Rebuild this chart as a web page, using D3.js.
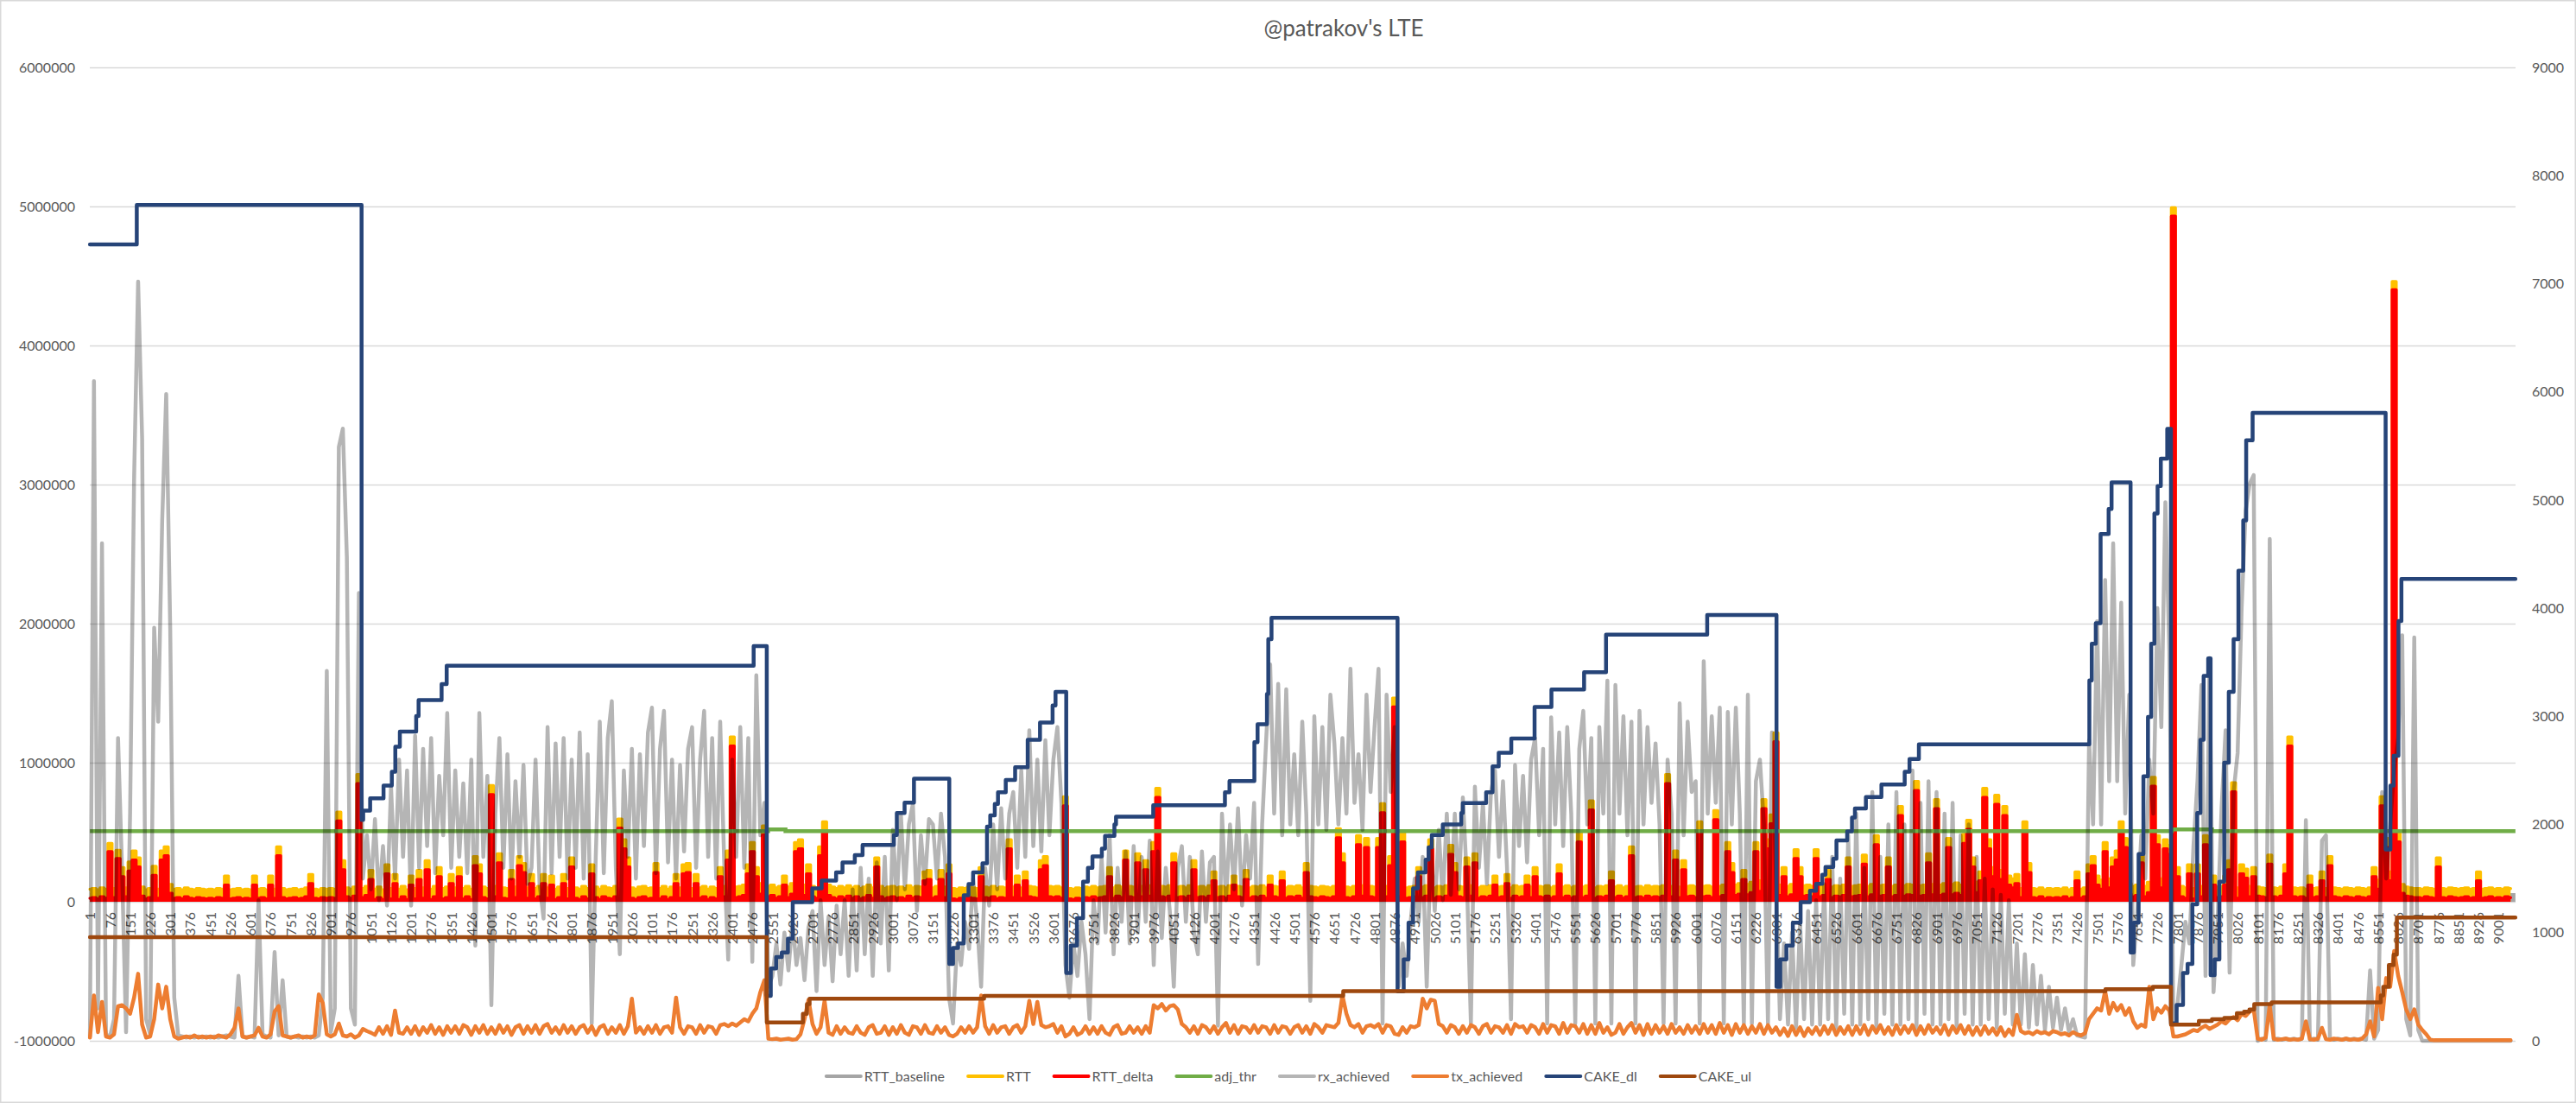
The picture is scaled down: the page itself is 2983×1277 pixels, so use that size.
<!DOCTYPE html>
<html><head><meta charset="utf-8">
<script src="https://cdn.jsdelivr.net/npm/d3@7"></script>
<style>
html,body{margin:0;padding:0;background:#fff;}
svg{display:block;}
</style></head><body>
<svg id="chart" width="2983" height="1277"></svg>
<script>
// ---------------- DATA ----------------
const TITLE = "@patrakov's LTE";
const N_CATEGORIES = 9064;        // categories 1..9064 on the x axis
const SAMPLE_STEP = 15;           // sampled series: value i belongs to category 1 + 15*i

const categoryLabels = [1,76,151,226,301,376,451,526,601,676,751,826,901,976,1051,1126,1201,1276,1351,1426,1501,1576,1651,1726,1801,1876,1951,2026,2101,2176,2251,2326,2401,2476,2551,2626,2701,2776,2851,2926,3001,3076,3151,3226,3301,3376,3451,3526,3601,3676,3751,3826,3901,3976,4051,4126,4201,4276,4351,4426,4501,4576,4651,4726,4801,4876,4951,5026,5101,5176,5251,5326,5401,5476,5551,5626,5701,5776,5851,5926,6001,6076,6151,6226,6301,6376,6451,6526,6601,6676,6751,6826,6901,6976,7051,7126,7201,7276,7351,7426,7501,7576,7651,7726,7801,7876,7951,8026,8101,8176,8251,8326,8401,8476,8551,8626,8701,8776,8851,8926,9001];
const leftTicks = [-1000000,0,1000000,2000000,3000000,4000000,5000000,6000000];
const rightTicks = [0,1000,2000,3000,4000,5000,6000,7000,8000,9000];

const seriesNames = ["RTT_baseline","RTT","RTT_delta","adj_thr","rx_achieved","tx_achieved","CAKE_dl","CAKE_ul"];

// RTT_baseline (left axis), step series
const rttBaselineCats = [1, 1016, 2530, 6303, 7777, 8700, 9064];
const rttBaselineVals = [62000, 70000, 68000, 70000, 62000, 62000, 62000];

// RTT (left axis), one value per 15 categories
const rtt = [
90e3,95e3,85e3,100e3,90e3,420e3,95e3,370e3,245e3,100e3,
285e3,365e3,315e3,105e3,85e3,95e3,255e3,90e3,365e3,395e3,
125e3,90e3,95e3,85e3,100e3,90e3,85e3,95e3,90e3,85e3,
90e3,85e3,95e3,90e3,185e3,85e3,90e3,95e3,85e3,90e3,
85e3,185e3,90e3,95e3,85e3,185e3,90e3,395e3,95e3,85e3,
90e3,95e3,85e3,90e3,100e3,195e3,90e3,85e3,95e3,90e3,
95e3,90e3,645e3,295e3,100e3,90e3,105e3,915e3,95e3,110e3,
225e3,90e3,105e3,85e3,265e3,95e3,195e3,90e3,110e3,85e3,
185e3,95e3,225e3,100e3,295e3,90e3,110e3,245e3,95e3,105e3,
195e3,100e3,245e3,95e3,110e3,90e3,325e3,265e3,105e3,95e3,
835e3,110e3,345e3,100e3,95e3,225e3,105e3,325e3,275e3,100e3,
195e3,95e3,110e3,195e3,100e3,185e3,90e3,105e3,195e3,95e3,
315e3,100e3,90e3,110e3,95e3,265e3,105e3,90e3,110e3,100e3,
95e3,110e3,595e3,445e3,315e3,100e3,90e3,105e3,110e3,95e3,
100e3,275e3,95e3,110e3,90e3,105e3,195e3,100e3,265e3,275e3,
95e3,195e3,100e3,110e3,90e3,105e3,95e3,245e3,110e3,365e3,
1185e3,105e3,110e3,120e3,265e3,425e3,245e3,130e3,545e3,110e3,
120e3,100e3,110e3,185e3,105e3,130e3,425e3,445e3,120e3,265e3,
110e3,100e3,395e3,575e3,120e3,105e3,95e3,110e3,100e3,115e3,
100e3,110e3,95e3,105e3,120e3,100e3,315e3,110e3,95e3,105e3,
110e3,100e3,105e3,95e3,115e3,100e3,110e3,105e3,215e3,225e3,
100e3,110e3,225e3,105e3,265e3,95e3,90e3,100e3,95e3,105e3,
100e3,95e3,245e3,105e3,100e3,110e3,95e3,105e3,100e3,445e3,
105e3,185e3,100e3,215e3,110e3,105e3,100e3,295e3,325e3,110e3,
105e3,110e3,100e3,755e3,95e3,90e3,100e3,95e3,105e3,100e3,
110e3,100e3,105e3,110e3,245e3,100e3,115e3,105e3,365e3,110e3,
105e3,345e3,110e3,295e3,115e3,425e3,815e3,110e3,105e3,115e3,
345e3,105e3,110e3,100e3,115e3,295e3,105e3,110e3,100e3,115e3,
215e3,105e3,110e3,100e3,115e3,185e3,110e3,105e3,225e3,100e3,
110e3,105e3,115e3,100e3,185e3,110e3,105e3,215e3,100e3,110e3,
105e3,115e3,100e3,275e3,110e3,105e3,100e3,110e3,105e3,100e3,
110e3,525e3,345e3,105e3,100e3,110e3,475e3,115e3,455e3,110e3,
105e3,455e3,705e3,110e3,325e3,1465e3,110e3,495e3,100e3,105e3,
110e3,245e3,105e3,115e3,445e3,100e3,110e3,105e3,115e3,405e3,
275e3,110e3,105e3,315e3,115e3,345e3,100e3,110e3,105e3,115e3,
185e3,105e3,110e3,195e3,100e3,115e3,105e3,110e3,185e3,105e3,
245e3,110e3,105e3,115e3,100e3,110e3,265e3,105e3,115e3,100e3,
110e3,495e3,105e3,115e3,725e3,100e3,110e3,105e3,115e3,215e3,
105e3,115e3,100e3,110e3,395e3,105e3,110e3,100e3,115e3,105e3,
110e3,105e3,115e3,915e3,110e3,365e3,105e3,295e3,110e3,115e3,
105e3,575e3,110e3,115e3,105e3,655e3,110e3,120e3,425e3,275e3,
120e3,130e3,225e3,125e3,140e3,425e3,150e3,735e3,445e3,625e3,
1215e3,120e3,245e3,110e3,125e3,375e3,245e3,115e3,120e3,110e3,
375e3,110e3,120e3,225e3,105e3,115e3,110e3,120e3,315e3,110e3,
115e3,120e3,335e3,110e3,125e3,475e3,115e3,120e3,315e3,110e3,
120e3,685e3,115e3,125e3,120e3,865e3,115e3,120e3,345e3,125e3,
735e3,120e3,130e3,455e3,125e3,135e3,120e3,485e3,585e3,315e3,
140e3,215e3,815e3,445e3,245e3,765e3,225e3,685e3,185e3,165e3,
195e3,95e3,575e3,275e3,95e3,90e3,100e3,85e3,95e3,90e3,
95e3,90e3,100e3,85e3,95e3,215e3,90e3,100e3,265e3,325e3,
185e3,155e3,425e3,165e3,315e3,365e3,575e3,455e3,130e3,110e3,
120e3,345e3,110e3,140e3,895e3,475e3,165e3,445e3,405e3,4990e3,
245e3,110e3,100e3,265e3,95e3,265e3,110e3,475e3,100e3,185e3,
105e3,110e3,185e3,295e3,855e3,100e3,265e3,235e3,110e3,245e3,
105e3,100e3,95e3,335e3,100e3,95e3,105e3,265e3,1185e3,100e3,
95e3,100e3,90e3,185e3,95e3,100e3,215e3,95e3,325e3,100e3,
95e3,90e3,100e3,95e3,90e3,100e3,95e3,90e3,100e3,245e3,
155e3,755e3,455e3,215e3,4460e3,495e3,125e3,105e3,100e3,95e3,
95e3,90e3,100e3,95e3,90e3,315e3,95e3,90e3,100e3,95e3,
90e3,95e3,100e3,90e3,95e3,215e3,90e3,95e3,100e3,90e3,
95e3,90e3,100e3,95e3];

// RTT_delta (left axis), one value per 15 categories
const rttDelta = [
25e3,30e3,20e3,35e3,25e3,360e3,30e3,310e3,180e3,35e3,
220e3,300e3,250e3,40e3,20e3,30e3,190e3,25e3,300e3,330e3,
60e3,25e3,30e3,20e3,35e3,25e3,20e3,30e3,25e3,20e3,
25e3,20e3,30e3,25e3,120e3,20e3,25e3,30e3,20e3,25e3,
20e3,120e3,25e3,30e3,20e3,120e3,25e3,330e3,30e3,20e3,
25e3,30e3,20e3,25e3,35e3,130e3,25e3,20e3,30e3,25e3,
30e3,25e3,580e3,230e3,35e3,25e3,40e3,850e3,30e3,45e3,
160e3,15e3,30e3,15e3,200e3,20e3,130e3,15e3,35e3,15e3,
120e3,20e3,160e3,25e3,230e3,15e3,35e3,180e3,20e3,30e3,
130e3,25e3,180e3,20e3,35e3,15e3,260e3,200e3,30e3,20e3,
770e3,35e3,280e3,25e3,20e3,160e3,30e3,260e3,210e3,25e3,
130e3,20e3,35e3,130e3,25e3,120e3,15e3,30e3,130e3,20e3,
250e3,25e3,15e3,35e3,20e3,200e3,30e3,15e3,35e3,25e3,
20e3,35e3,530e3,380e3,250e3,25e3,15e3,30e3,35e3,20e3,
25e3,210e3,20e3,35e3,15e3,30e3,130e3,25e3,200e3,210e3,
20e3,130e3,25e3,35e3,15e3,30e3,20e3,180e3,35e3,300e3,
1120e3,30e3,35e3,45e3,200e3,360e3,180e3,55e3,480e3,35e3,
45e3,25e3,35e3,120e3,30e3,55e3,360e3,380e3,45e3,200e3,
35e3,25e3,330e3,510e3,45e3,30e3,20e3,35e3,25e3,40e3,
25e3,35e3,20e3,30e3,45e3,25e3,250e3,35e3,20e3,30e3,
35e3,25e3,30e3,20e3,40e3,25e3,35e3,30e3,150e3,160e3,
25e3,35e3,160e3,30e3,200e3,20e3,15e3,25e3,20e3,30e3,
25e3,20e3,180e3,30e3,25e3,35e3,20e3,30e3,25e3,380e3,
30e3,120e3,25e3,150e3,35e3,30e3,25e3,230e3,260e3,35e3,
30e3,35e3,25e3,690e3,20e3,15e3,25e3,20e3,30e3,25e3,
35e3,25e3,30e3,35e3,180e3,25e3,40e3,30e3,300e3,35e3,
30e3,280e3,35e3,230e3,40e3,360e3,750e3,35e3,30e3,40e3,
280e3,30e3,35e3,25e3,40e3,230e3,30e3,35e3,25e3,40e3,
150e3,30e3,35e3,25e3,40e3,120e3,35e3,30e3,160e3,25e3,
35e3,30e3,40e3,25e3,120e3,35e3,30e3,150e3,25e3,35e3,
30e3,40e3,25e3,210e3,35e3,30e3,25e3,35e3,30e3,25e3,
35e3,460e3,280e3,30e3,25e3,35e3,410e3,40e3,390e3,35e3,
30e3,390e3,640e3,35e3,260e3,1400e3,35e3,430e3,25e3,30e3,
35e3,180e3,30e3,40e3,380e3,25e3,35e3,30e3,40e3,340e3,
210e3,35e3,30e3,250e3,40e3,280e3,25e3,35e3,30e3,40e3,
120e3,30e3,35e3,130e3,25e3,40e3,30e3,35e3,120e3,30e3,
180e3,35e3,30e3,40e3,25e3,35e3,200e3,30e3,40e3,25e3,
35e3,430e3,30e3,40e3,660e3,25e3,35e3,30e3,40e3,150e3,
30e3,40e3,25e3,35e3,330e3,30e3,35e3,25e3,40e3,30e3,
35e3,30e3,40e3,850e3,35e3,300e3,30e3,230e3,35e3,40e3,
30e3,510e3,35e3,40e3,30e3,590e3,35e3,45e3,360e3,210e3,
45e3,55e3,160e3,50e3,65e3,360e3,75e3,670e3,380e3,560e3,
1150e3,45e3,180e3,35e3,50e3,310e3,180e3,40e3,45e3,35e3,
310e3,35e3,45e3,160e3,30e3,40e3,35e3,45e3,250e3,35e3,
40e3,45e3,270e3,35e3,50e3,410e3,40e3,45e3,250e3,35e3,
45e3,620e3,40e3,50e3,45e3,800e3,40e3,45e3,280e3,50e3,
670e3,45e3,55e3,390e3,50e3,60e3,45e3,420e3,520e3,250e3,
65e3,150e3,750e3,380e3,180e3,700e3,160e3,620e3,120e3,100e3,
130e3,30e3,510e3,210e3,30e3,25e3,35e3,20e3,30e3,25e3,
30e3,25e3,35e3,20e3,30e3,150e3,25e3,35e3,200e3,260e3,
120e3,90e3,360e3,100e3,250e3,300e3,510e3,390e3,55e3,35e3,
45e3,280e3,35e3,65e3,830e3,410e3,100e3,380e3,340e3,4930e3,
180e3,35e3,25e3,200e3,20e3,200e3,35e3,410e3,25e3,120e3,
30e3,35e3,120e3,230e3,790e3,25e3,200e3,170e3,35e3,180e3,
40e3,35e3,30e3,270e3,35e3,30e3,40e3,200e3,1120e3,35e3,
30e3,35e3,25e3,120e3,30e3,35e3,150e3,30e3,260e3,35e3,
30e3,25e3,35e3,30e3,25e3,35e3,30e3,25e3,35e3,180e3,
90e3,690e3,390e3,150e3,4400e3,430e3,60e3,40e3,35e3,30e3,
30e3,25e3,35e3,30e3,25e3,250e3,30e3,25e3,35e3,30e3,
25e3,30e3,35e3,25e3,30e3,150e3,25e3,30e3,35e3,25e3,
30e3,25e3,35e3,30e3];

// adj_thr (left axis), step series
const adjThrCats = [1, 2535, 2600, 7780, 7930, 9064];
const adjThrVals = [507000, 520000, 507000, 520000, 507000, 507000];

// rx_achieved (right axis), one value per 15 categories
const rxAchieved = [
40,6100,300,4600,60,40,200,2800,1580,80,
2100,5200,7020,5570,200,60,3820,2950,4810,5980,
3800,400,50,40,30,40,30,40,30,40,
30,40,30,40,50,40,30,600,40,30,
40,30,1300,60,40,30,820,50,560,40,
30,40,30,40,30,40,30,50,400,3420,
80,300,5490,5660,4470,300,150,4140,1500,1900,
1400,2050,1300,1800,1250,2350,1500,2600,1700,2500,
1250,2820,1600,2700,1800,2800,1550,2450,1900,3030,
1600,2500,1700,2380,1550,2600,880,3030,1700,2450,
330,2100,2800,1600,2650,1500,2400,1700,2550,1450,
1600,2600,1450,1130,2900,1550,2750,1700,2800,1500,
2600,1600,2850,1500,2650,160,1700,2950,1550,2800,
3140,1600,800,2500,1700,2700,1500,2650,1800,2850,
3080,1550,2700,3050,1650,2600,1500,2550,1750,2700,
2900,1600,2600,3050,1700,2800,1500,2950,1650,750,
2600,1700,2900,1600,2800,730,3380,1900,2200,500,
600,900,520,1000,650,1100,700,950,560,1050,
1200,460,1300,700,1150,550,1250,800,1300,600,
1400,650,1600,800,1500,600,1650,900,1700,650,
1950,1300,2100,1400,2000,2190,1200,1900,1450,2050,
2000,1500,2100,1700,400,160,900,700,1100,850,
1500,1100,500,1600,1250,2000,1400,2150,1500,2100,
2300,1600,2500,1700,2870,1800,2600,1750,2780,1900,
2600,2900,2200,700,400,900,600,1100,800,200,
1300,900,1700,1000,1900,800,1600,1100,1750,900,
1800,1000,1700,1100,1850,700,1750,950,1600,1200,
500,1600,1800,1100,1700,1000,800,1750,1100,1650,
1700,140,2100,1300,2000,1400,2150,1250,1900,1500,
2200,710,2000,2780,3480,2100,3300,1900,3250,2000,
2650,1900,2950,2100,370,3000,2000,2900,1950,3200,
2750,2000,2800,2100,3440,2200,2650,1950,3200,2300,
2900,3440,160,3200,2300,2900,500,900,600,1100,
1500,1100,1700,500,1800,1200,1950,1300,2100,1350,
2100,1400,2250,1500,160,2350,1600,2200,1450,2300,
2500,1700,2400,1600,200,2550,1800,2450,1650,2600,
2800,1900,2700,160,2990,2000,2850,1800,2900,2100,
160,2700,3050,2000,2800,160,2900,2100,3330,160,
3290,2100,3000,1900,2950,160,3050,2000,2900,2200,
2750,2000,160,2600,2100,160,3120,1900,2950,2300,
2400,160,3510,2100,3000,2200,3080,160,3040,2000,
3080,2100,160,3200,160,2400,2600,2000,160,2850,
1500,200,900,150,1000,120,1100,200,1200,150,
1300,150,1450,200,1700,120,1500,250,1900,150,
2100,150,1600,200,2300,120,1700,250,2000,150,
2300,150,2000,200,2500,120,2200,250,2400,150,
2300,150,2100,200,2200,120,1900,250,2000,150,
1700,150,1500,200,1400,120,1350,250,1300,150,
900,150,800,120,700,150,600,100,500,120,
400,100,300,80,200,50,40,30,2780,2000,
3880,2000,4260,2400,4600,2400,4050,2100,3200,700,
1180,1900,1500,2600,2100,4000,2900,4980,3600,150,
330,700,1100,900,1800,2400,3290,600,3540,450,
1100,2150,2870,630,2300,2660,4000,4900,5150,5230,
0,20,10,4640,10,20,10,20,10,20,
10,20,2040,10,20,10,1850,1900,20,10,
20,10,20,10,20,10,20,10,650,20,
100,2300,1500,2000,2500,2800,3750,200,50,3730,
100,0,0,0,0,0,0,0,0,0,
0,0,0,0,0,0,0,0,0,0,
0,0,0,0];

// tx_achieved (right axis), one value per 15 categories
const txAchieved = [
30,420,80,360,40,30,60,320,330,300,
250,400,620,150,30,40,200,520,300,500,
200,40,20,30,40,30,50,30,40,30,
40,30,50,40,30,60,120,300,40,30,
40,50,120,40,30,60,270,320,50,40,
30,40,50,30,40,30,50,430,350,60,
40,60,160,50,40,60,30,50,110,90,
75,55,125,65,135,55,280,75,65,125,
65,135,55,125,75,145,65,125,55,135,
75,135,65,145,125,55,135,75,145,65,
125,65,145,75,135,55,125,145,65,135,
75,145,65,135,155,75,125,65,145,75,
135,65,125,145,75,135,55,125,145,65,
125,75,145,65,135,390,75,125,65,135,
75,145,65,125,135,75,400,125,65,135,
125,65,145,75,135,125,65,145,155,135,
160,140,170,200,180,250,300,450,560,20,
15,20,10,15,20,10,15,60,200,380,
155,65,125,370,75,55,135,65,125,75,
65,135,75,55,125,145,65,75,135,55,
125,65,145,75,55,135,125,65,145,75,
65,135,75,125,55,40,65,125,75,135,
75,125,420,135,65,145,75,125,135,65,
125,145,75,135,370,155,360,145,125,135,
155,75,135,40,65,125,55,75,135,65,
125,65,135,75,55,125,145,65,75,135,
75,125,65,135,75,330,300,340,280,320,
330,290,155,125,75,135,65,145,125,75,
135,65,125,165,75,145,65,135,125,75,
145,75,135,125,65,145,75,135,125,65,
125,145,75,135,65,155,125,75,145,135,
125,165,420,250,145,125,155,75,135,145,
125,155,75,145,135,65,55,125,75,135,
125,145,390,300,380,370,155,135,75,145,
125,65,135,75,145,125,65,135,155,75,
135,125,75,145,65,155,125,135,75,145,
125,65,155,75,145,135,65,165,75,145,
135,75,155,65,145,65,165,75,125,55,
75,155,65,125,165,75,145,55,155,65,
145,75,135,65,155,75,125,65,145,75,
135,65,155,75,145,65,165,75,145,55,
155,75,145,65,135,75,155,65,145,75,
125,55,115,45,135,55,125,45,115,65,
125,55,135,65,145,55,125,65,135,55,
135,65,145,55,135,75,145,65,125,55,
145,65,135,75,145,55,135,65,145,75,
125,65,145,55,135,75,145,65,135,55,
125,55,135,65,115,55,125,45,105,55,
240,90,70,80,60,90,70,80,60,90,
80,60,70,50,80,60,50,70,200,250,
300,280,460,250,350,280,330,240,300,180,
120,150,130,500,200,300,260,320,280,40,
40,50,60,80,100,90,120,140,110,130,
150,180,160,200,220,190,250,230,270,290,
20,10,30,330,20,10,15,20,10,15,
10,20,180,15,10,20,120,15,10,20,
15,10,20,10,15,10,20,60,180,40,
490,200,580,500,830,600,450,290,200,290,
150,100,60,10,5,5,5,5,5,5,
5,5,5,5,5,5,5,5,5,5,
5,5,5,5];

// CAKE_dl (right axis): value holds from the listed category until the next one
const cakeDlCats = [1,176,1016,1022,1048,1098,1129,1142,1159,1220,1229,1315,1334,2481,2530,2545,2565,2586,2609,2627,2700,2735,2789,2813,2859,2888,3005,3016,3045,3080,3212,3226,3245,3266,3284,3301,3336,3353,3365,3382,3394,3423,3458,3505,3551,3598,3609,3649,3666,3689,3712,3730,3747,3782,3794,3829,3835,3974,4242,4259,4352,4364,4399,4404,4416,4887,4910,4928,4945,4963,4992,5003,5015,5056,5125,5131,5218,5242,5265,5312,5399,5462,5584,5666,6044,6303,6317,6340,6364,6393,6428,6451,6474,6486,6515,6527,6567,6585,6596,6637,6695,6782,6800,6835,7472,7481,7496,7514,7544,7555,7626,7638,7656,7674,7691,7703,7715,7727,7739,7763,7777,7798,7822,7839,7857,7875,7887,7899,7916,7925,7940,7958,7976,7993,8011,8029,8047,8058,8082,8579,8597,8609,8627,8638,9064];
const cakeDlVals = [7363,7728,2043,2128,2242,2360,2487,2720,2859,3003,3151,3299,3468,3650,415,669,775,817,944,1282,1409,1481,1557,1650,1717,1810,1903,2106,2203,2423,711,859,900,1345,1450,1557,1641,1980,2085,2191,2297,2411,2529,2783,2943,3100,3227,627,880,1134,1472,1599,1705,1777,1895,2001,2073,2178,2297,2402,2762,2927,3206,3713,3912,457,753,1092,1409,1557,1675,1789,1903,2001,2106,2199,2297,2538,2664,2795,3087,3248,3408,3755,3937,500,753,880,1092,1282,1388,1451,1536,1608,1684,1853,1937,2064,2149,2254,2369,2487,2605,2741,3332,3671,3861,4685,4918,5163,817,1092,1726,2445,2994,3671,4876,5129,5383,5658,161,331,627,711,1261,2106,2783,3375,3535,606,753,1472,2571,3227,3713,4347,4812,5552,5806,1768,2360,2635,3882,4271,4271];

// CAKE_ul (right axis): value holds from the listed category until the next one
const cakeUlCats = [1,2530,2665,2680,2690,3342,4684,7532,7709,7777,7881,7930,7976,8023,8050,8070,8088,8153,8561,8570,8591,8609,8621,9064];
const cakeUlVals = [958,170,250,340,390,415,460,478,500,149,183,200,212,255,270,289,339,356,420,500,700,796,1140,1140];

// ---------------- CHART ----------------
const W = 2983, H = 1277;
const plot = {left: 104, right: 2913, top: 78, bottom: 1205};
const FONT = "Lato, 'Open Sans', 'Liberation Sans', sans-serif";
const TEXT_COLOR = "#595959";
const colors = {
  RTT_baseline: "#A5A5A5", RTT: "#FFC000", RTT_delta: "#FF0000", adj_thr: "#70AD47",
  rx_achieved: "#000000", tx_achieved: "#ED7D31", CAKE_dl: "#264478", CAKE_ul: "#9E480E"
};
const RX_OPACITY = 0.29;
const LW = 4.5;

const svg = d3.select("#chart").attr("font-family", FONT);
svg.append("rect").attr("x", 0.75).attr("y", 0.75).attr("width", W - 1.5).attr("height", H - 1.5)
  .attr("fill", "#fff").attr("stroke", "#D9D9D9").attr("stroke-width", 1.5);

const x = d3.scaleLinear().domain([0.5, N_CATEGORIES + 0.5]).range([plot.left, plot.right]);
const yL = d3.scaleLinear().domain([-1000000, 6000000]).range([plot.bottom, plot.top]);
const yR = d3.scaleLinear().domain([0, 9000]).range([plot.bottom, plot.top]);
const sampleCat = i => 1 + SAMPLE_STEP * i;

// gridlines
svg.append("g").attr("transform", `translate(${plot.left},0)`)
  .call(d3.axisLeft(yL).tickValues(leftTicks).tickSize(-(plot.right - plot.left)).tickFormat(""))
  .call(g => g.select(".domain").remove())
  .call(g => g.selectAll("line").attr("stroke", "#D9D9D9").attr("stroke-width", 1.5));

// left axis labels
svg.append("g").attr("transform", `translate(${plot.left},0)`)
  .call(d3.axisLeft(yL).tickValues(leftTicks).tickSize(0).tickPadding(17).tickFormat(d => String(d)))
  .call(g => g.select(".domain").remove())
  .call(g => g.selectAll("text").attr("fill", TEXT_COLOR).attr("font-size", 16).attr("font-family", FONT));

// right axis labels
svg.append("g").attr("transform", `translate(${plot.right},0)`)
  .call(d3.axisRight(yR).tickValues(rightTicks).tickSize(0).tickPadding(19).tickFormat(d => String(d)))
  .call(g => g.select(".domain").remove())
  .call(g => g.selectAll("text").attr("fill", TEXT_COLOR).attr("font-size", 16).attr("font-family", FONT));

// category axis labels (crossing at 0 of the left axis), rotated
svg.append("g").attr("transform", `translate(0,${yL(0)})`)
  .call(d3.axisBottom(x).tickValues(categoryLabels).tickSize(0).tickFormat(d => String(d)))
  .call(g => g.select(".domain").remove())
  .call(g => g.selectAll("text")
    .attr("transform", "rotate(-90)").attr("x", -12).attr("y", 0).attr("dy", "0.35em")
    .attr("text-anchor", "end").attr("fill", TEXT_COLOR).attr("font-size", 16).attr("font-family", FONT));

const series = svg.append("g");

// RTT_baseline area (step)
const basePts = rttBaselineCats.map((c, i) => [c, rttBaselineVals[i]]);
series.append("path")
  .attr("d", d3.area().curve(d3.curveStepAfter).x(d => x(d[0])).y0(yL(0)).y1(d => yL(d[1]))(basePts))
  .attr("fill", colors.RTT_baseline);

// RTT and RTT_delta areas (each sample drawn as a narrow column)
function sampledArea(vals, color) {
  series.append("path")
    .attr("d", d3.area().curve(d3.curveStep).x((d, i) => x(sampleCat(i))).y0(yL(0)).y1(d => yL(d))(vals))
    .attr("fill", color);
  series.append("path")
    .attr("d", d3.line().curve(d3.curveStep).x((d, i) => x(sampleCat(i))).y(d => yL(d))(vals))
    .attr("fill", "none").attr("stroke", color).attr("stroke-width", 3.5)
    .attr("stroke-linejoin", "round").attr("stroke-linecap", "round");
}
sampledArea(rtt, colors.RTT);
sampledArea(rttDelta, colors.RTT_delta);

// adj_thr
series.append("path")
  .attr("d", d3.line().curve(d3.curveStepAfter).x(d => x(d[0])).y(d => yL(d[1]))(adjThrCats.map((c, i) => [c, adjThrVals[i]])))
  .attr("fill", "none").attr("stroke", colors.adj_thr).attr("stroke-width", LW);

// rx_achieved (semi-transparent)
series.append("path")
  .attr("d", d3.line().x((d, i) => x(sampleCat(i))).y(d => yR(d))(rxAchieved))
  .attr("fill", "none").attr("stroke", colors.rx_achieved).attr("stroke-opacity", RX_OPACITY)
  .attr("stroke-width", LW).attr("stroke-linejoin", "round").attr("stroke-linecap", "round");

// tx_achieved
series.append("path")
  .attr("d", d3.line().x((d, i) => x(sampleCat(i))).y(d => yR(d))(txAchieved))
  .attr("fill", "none").attr("stroke", colors.tx_achieved)
  .attr("stroke-width", LW).attr("stroke-linejoin", "round").attr("stroke-linecap", "round");

// CAKE_dl, CAKE_ul
function stepLine(cats, vals, color) {
  series.append("path")
    .attr("d", d3.line().curve(d3.curveStepAfter).x(d => x(d[0])).y(d => yR(d[1]))(cats.map((c, i) => [c, vals[i]])))
    .attr("fill", "none").attr("stroke", color).attr("stroke-width", LW)
    .attr("stroke-linejoin", "round").attr("stroke-linecap", "round");
}
stepLine(cakeDlCats, cakeDlVals, colors.CAKE_dl);
stepLine(cakeUlCats, cakeUlVals, colors.CAKE_ul);

// title
svg.append("text").attr("x", 1556).attr("y", 42).attr("text-anchor", "middle")
  .attr("fill", TEXT_COLOR).attr("font-size", 26).attr("font-family", FONT).text(TITLE);

// legend
const legend = svg.append("g");
let lx = 0;
seriesNames.forEach(name => {
  const g = legend.append("g").attr("transform", `translate(${lx},0)`);
  g.append("line").attr("x1", 2).attr("x2", 42).attr("y1", 0).attr("y2", 0)
    .attr("stroke", colors[name]).attr("stroke-opacity", name === "rx_achieved" ? RX_OPACITY : 1)
    .attr("stroke-width", 4).attr("stroke-linecap", "round");
  const t = g.append("text").attr("x", 46).attr("y", 0).attr("dy", "0.35em")
    .attr("fill", TEXT_COLOR).attr("font-size", 16).attr("font-family", FONT).text(name);
  lx += 46 + t.node().getComputedTextLength() + 25;
});
const legendWidth = lx - 25;
legend.attr("transform", `translate(${W / 2 - legendWidth / 2},1246)`);

// sanity check: all sampled series must have the same number of values
[["rttDelta", rttDelta], ["rxAchieved", rxAchieved], ["txAchieved", txAchieved]].forEach(([n, a]) => {
  if (a.length !== rtt.length) console.warn(n + " length " + a.length + " differs from rtt " + rtt.length);
});
</script>
</body></html>
